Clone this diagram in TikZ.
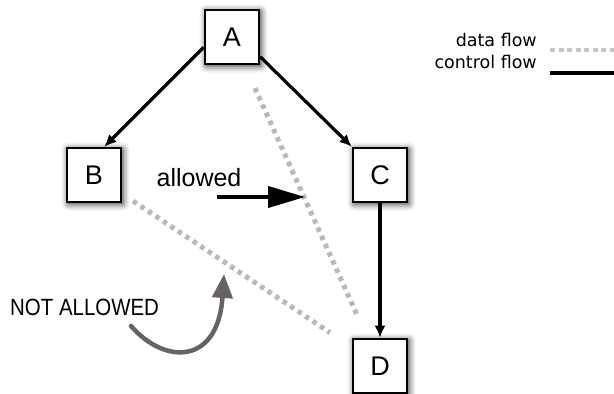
\documentclass[tikz,border=0pt]{standalone}
\usepackage{fontspec}
\setmainfont{Liberation Sans}
\newfontfamily\legfont{DejaVu Sans}
\newfontfamily\narrowfont[FakeStretch=0.87]{Liberation Sans}
\usetikzlibrary{arrows.meta,shadows.blur}
\definecolor{grisfonce}{RGB}{105,98,98}
\begin{document}
\begin{tikzpicture}[x=1pt,y=-1pt,
	boite/.style={draw, line width=2.6pt, fill=white, minimum size=54pt, inner sep=0pt,
		font=\fontsize{27}{27}\selectfont,
		blur shadow={shadow xshift=1.5pt, shadow yshift=-1.5pt, shadow blur radius=7pt, shadow opacity=90}},
	controle/.style={line width=3.2pt, -{Latex[length=12pt,width=11pt]}},
	donnees/.style={line width=5pt, gray!55, dash pattern=on 4.5pt off 4.5pt}]
	\useasboundingbox (0,0) rectangle (614,394);
	
	% Boites
	\node[boite] (A) at (232,37) {A};
	\node[boite] (B) at (94,175) {B};
	\node[boite] (C) at (380,175) {C};
	\node[boite] (D) at (380,366) {D};
	
	% Flux de controle
	\draw[controle] (A.200) -- (B.70);
	\draw[controle] (A.-35) -- (C.135);
	\draw[controle] (C.south) -- (D.north);
	
	% Flux de donnees en pointilles
	\draw[donnees, shorten <=56pt, shorten >=53pt] (A.center) -- (D.center);
	\draw[donnees, shorten <=47pt, shorten >=60pt] (B.center) -- (D.center);
	
	% Fleche autorisee
	\node (ok) at (199,178) {\fontsize{25}{25}\selectfont allowed};
	\coordinate (ok1) at (217,197);
	\coordinate (ok2) at (305,197);
	\draw[line width=4pt, -{Triangle[length=37pt,width=21pt]}] (ok1) -- (ok2);
	
	% Fleche interdite
	\node[anchor=base west, inner sep=0pt] (nok) at (10,315) {\narrowfont\fontsize{23.5}{24}\selectfont NOT ALLOWED};
	\coordinate (nok1) at (131,326);
	\coordinate (nok2) at (224,274);
	\draw[line width=4.5pt, line cap=round, grisfonce, -{Triangle[length=24pt,width=20pt]}]
		(nok1) .. controls (165,365) and (218,365) .. (nok2);
	
	% Legende
	\node[anchor=base east, inner sep=0pt] (leg1) at (537,46) {\legfont\fontsize{17.5}{17.5}\selectfont data flow};
	\node[anchor=base east, inner sep=0pt] (leg2) at (537,68) {\legfont\fontsize{17.5}{17.5}\selectfont control flow};
	\draw[line width=3.5pt, gray!45, dash pattern=on 5pt off 3.5pt] ([xshift=13pt,yshift=-4pt]leg1.base east) -- ++(70,0);
	\draw[line width=4.5pt] ([xshift=13pt,yshift=-5pt]leg2.base east) -- ++(70,0);
\end{tikzpicture}
\end{document}
